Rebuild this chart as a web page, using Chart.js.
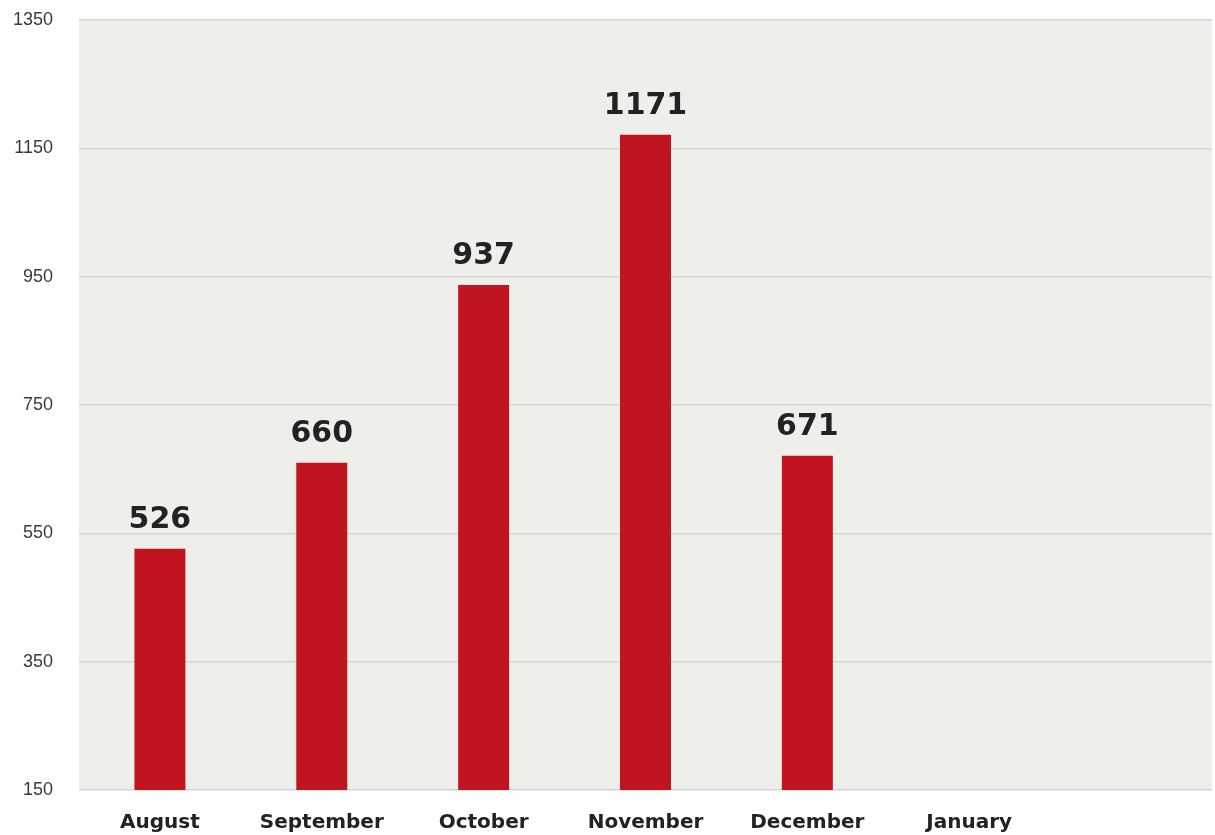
<!DOCTYPE html>
<html>
<head>
<meta charset="utf-8">
<script src="https://cdn.jsdelivr.net/npm/chart.js@4"></script>
<style>
html,body{margin:0;padding:0;background:#ffffff;}
#wrap{width:1215px;height:835px;}
</style>
</head>
<body>
<div id="wrap"><canvas id="c" width="1215" height="835"></canvas></div>
<script>
const categories = ["August", "September", "October", "November", "December", "January", ""];
const values = [526, 660, 937, 1171, 671, null, null];
const yMin = 150;
const yMax = 1350;
const yStep = 200;

const areaBg = {
  id: 'areaBg',
  beforeDraw(chart) {
    const {ctx, chartArea: a} = chart;
    ctx.save();
    ctx.fillStyle = '#eeeeeb';
    ctx.fillRect(a.left, a.top, a.right - a.left, a.bottom - a.top);
    ctx.restore();
  }
};

const valueLabels = {
  id: 'valueLabels',
  afterDatasetsDraw(chart) {
    const {ctx} = chart;
    const meta = chart.getDatasetMeta(0);
    ctx.save();
    ctx.font = 'bold 30px "DejaVu Sans"';
    ctx.fillStyle = '#222222';
    ctx.textAlign = 'center';
    ctx.textBaseline = 'alphabetic';
    meta.data.forEach((el, i) => {
      const v = values[i];
      if (v == null) return;
      ctx.fillText(String(v), el.x, el.y - 21);
    });
    ctx.restore();
  }
};

new Chart(document.getElementById('c'), {
  type: 'bar',
  data: {
    labels: categories,
    datasets: [{
      data: values,
      backgroundColor: '#c1141f',
      borderWidth: 0,
      barPercentage: 0.63,
      categoryPercentage: 0.5
    }]
  },
  options: {
    responsive: false,
    animation: false,
    events: [],
    layout: {padding: {top: 20, right: 3, bottom: 0, left: 0}},
    plugins: {legend: {display: false}, tooltip: {enabled: false}, title: {display: false}},
    scales: {
      x: {
        grid: {display: false, drawTicks: false},
        border: {display: false},
        ticks: {
          color: '#222222',
          font: {family: '"DejaVu Sans"', size: 20, weight: 'bold'},
          padding: 21,
          maxRotation: 0,
          autoSkip: false
        },
        afterFit(scale) { scale.height = 45; }
      },
      y: {
        min: yMin,
        max: yMax,
        grid: {color: '#d4d4d0', lineWidth: 1.5, drawTicks: false},
        border: {display: false},
        ticks: {
          stepSize: yStep,
          color: '#3a3a3a',
          font: {family: '"Liberation Sans"', size: 18},
          padding: 26,
          callback: (v) => String(v)
        },
        afterFit(scale) {
          scale.width = 79;
          scale.paddingTop = 0;
          scale.paddingBottom = 0;
        }
      }
    }
  },
  plugins: [areaBg, valueLabels]
});
</script>
</body>
</html>
